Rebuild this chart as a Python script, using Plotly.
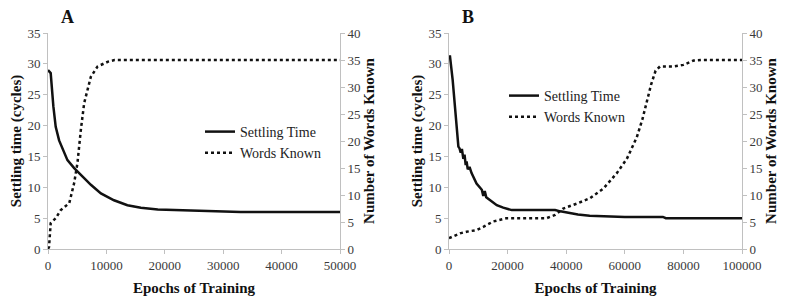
import plotly.graph_objects as go

# Panel A data
a_settle_x = [0, 460, 920, 1320, 1900, 2470, 3330, 4480, 5620, 7340, 9060, 11300, 13600, 15900, 18800, 22000, 27000, 33000, 40000, 50000]
a_settle_y = [29.0, 28.5, 23.1, 19.8, 17.6, 16.2, 14.4, 13.1, 12.0, 10.4, 9.0, 7.9, 7.1, 6.7, 6.4, 6.3, 6.2, 6.0, 6.0, 6.0]
a_words_x = [0, 180, 460, 1320, 2180, 3640, 4480, 5040, 5620, 6190, 7340, 8490, 10300, 11400, 50000]
a_words_y = [0, 0.4, 4.8, 5.7, 7.2, 8.5, 12.2, 15.9, 22.0, 27.0, 31.9, 33.8, 34.7, 35.0, 35.0]

# Panel B data
b_settle_x = [0, 340, 1250, 2050, 2600, 3200, 3600, 4000, 4400, 4900, 5300, 5700, 6000, 6400, 7000, 7700, 9400, 11200, 11700, 12200, 12700, 14000, 16300, 18500, 21400, 30000, 36200, 38000, 40000, 44000, 48000, 55000, 60000, 73000, 74000, 100000]
b_settle_y = [31.2, 31.2, 27.4, 23.0, 19.3, 16.6, 16.3, 15.6, 16.2, 14.6, 15.3, 13.6, 14.2, 12.9, 13.3, 12.3, 10.6, 9.6, 8.6, 9.4, 8.4, 7.9, 7.1, 6.7, 6.3, 6.3, 6.3, 6.1, 5.9, 5.6, 5.4, 5.3, 5.2, 5.2, 5.0, 5.0]
b_words_x = [0, 3750, 6000, 9400, 11700, 15100, 19600, 25300, 33300, 36200, 39000, 43600, 48100, 52700, 57200, 60700, 64100, 66000, 67500, 69000, 70500, 72000, 76600, 80000, 83500, 86000, 100000]
b_words_y = [2.0, 2.9, 3.2, 3.5, 4.1, 5.1, 5.7, 5.7, 5.7, 6.3, 7.5, 8.4, 9.4, 11.2, 14.0, 16.7, 20.7, 24.0, 27.5, 30.5, 33.0, 33.8, 33.8, 34.1, 34.9, 35.0, 35.0]

FONT = "Liberation Serif"
LINE = "#111111"
AXC = "#c0c0c0"
TICKC = "#3a3a3a"

# page has an 8px body margin; figure is sized so the view matches the window
W, H, OFF = 779, 297, 8
def px(xw):
    return (xw - OFF) / W
def py(yw):
    return (H - (yw - OFF)) / H

fig = go.Figure()
fig.add_trace(go.Scatter(x=a_settle_x, y=a_settle_y, mode="lines", name="Settling Time",
                         line=dict(color=LINE, width=2.5), xaxis="x", yaxis="y", legend="legend"))
fig.add_trace(go.Scatter(x=a_words_x, y=a_words_y, mode="lines", name="Words Known",
                         line=dict(color=LINE, width=2.5, dash="dot"), xaxis="x", yaxis="y2", legend="legend"))
fig.add_trace(go.Scatter(x=b_settle_x, y=b_settle_y, mode="lines", name="Settling Time",
                         line=dict(color=LINE, width=2.5), xaxis="x2", yaxis="y3", legend="legend2"))
fig.add_trace(go.Scatter(x=b_words_x, y=b_words_y, mode="lines", name="Words Known",
                         line=dict(color=LINE, width=2.5, dash="dot"), xaxis="x2", yaxis="y4", legend="legend2"))

ydom = [py(249), py(33)]
def ax(**kw):
    d = dict(showgrid=False, zeroline=False, showline=True, linecolor=AXC, linewidth=1,
             ticks="outside", ticklen=4, tickcolor=AXC, automargin=False,
             tickfont=dict(family=FONT, size=13, color=TICKC))
    d.update(kw)
    return d
def tfont():
    return dict(family=FONT, size=15, color="#111111", weight="bold")

fig.update_layout(
    width=W, height=H, margin=dict(l=0, r=0, t=0, b=0),
    paper_bgcolor="white", plot_bgcolor="white",
    font=dict(family=FONT, size=13, color=TICKC),
    xaxis=ax(domain=[px(48), px(340)], range=[0, 50000], dtick=10000, tickformat="d", anchor="y",
             title=dict(text="Epochs of Training", font=tfont(), standoff=10)),
    yaxis=ax(domain=ydom, range=[0, 35], dtick=5, anchor="x",
             title=dict(text="Settling time (cycles)", font=tfont(), standoff=2)),
    yaxis2=ax(range=[0, 40], dtick=5, overlaying="y", side="right", anchor="x",
              title=dict(text="Number of Words Known", font=tfont(), standoff=2)),
    xaxis2=ax(domain=[px(449), px(742)], range=[0, 100000], dtick=20000, tickformat="d", anchor="y3",
              title=dict(text="Epochs of Training", font=tfont(), standoff=10)),
    yaxis3=ax(domain=ydom, range=[0, 35], dtick=5, anchor="x2",
              title=dict(text="Settling time (cycles)", font=tfont(), standoff=2)),
    yaxis4=ax(range=[0, 40], dtick=5, overlaying="y3", side="right", anchor="x2",
              title=dict(text="Number of Words Known", font=tfont(), standoff=2)),
    legend=dict(x=px(200), y=py(116), xanchor="left", yanchor="top", bgcolor="rgba(0,0,0,0)",
                font=dict(family=FONT, size=14, color="#222222"), itemwidth=30, tracegroupgap=0),
    legend2=dict(x=px(504), y=py(80), xanchor="left", yanchor="top", bgcolor="rgba(0,0,0,0)",
                 font=dict(family=FONT, size=14, color="#222222"), itemwidth=30, tracegroupgap=0),
    showlegend=True,
    annotations=[
        dict(text="A", x=px(67), y=py(17), xref="paper", yref="paper", showarrow=False,
             xanchor="center", yanchor="middle", font=dict(family=FONT, size=18, color="#111111", weight="bold")),
        dict(text="B", x=px(468), y=py(17), xref="paper", yref="paper", showarrow=False,
             xanchor="center", yanchor="middle", font=dict(family=FONT, size=18, color="#111111", weight="bold")),
    ],
)

fig.write_html("out.html")
